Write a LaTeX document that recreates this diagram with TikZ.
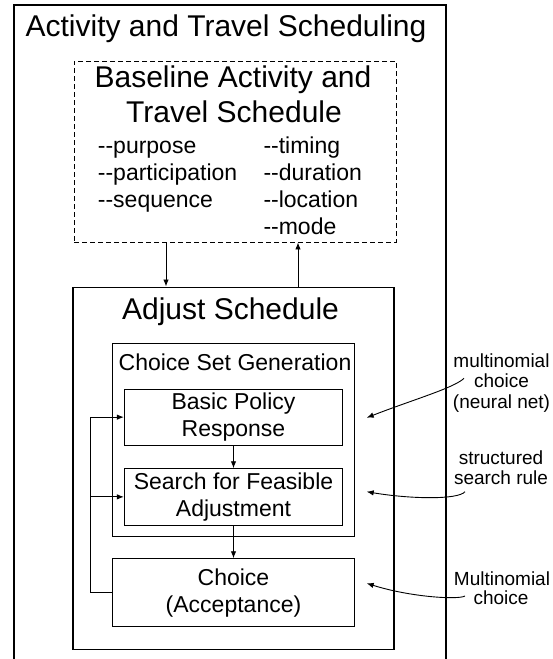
\documentclass[tikz,border=0pt]{standalone}
\usepackage{fontspec}
\setmainfont{Liberation Sans}
\usetikzlibrary{arrows.meta}
\newcommand{\dd}{-{}-}
\begin{document}
\begin{tikzpicture}[x=1pt,y=-1pt,
  frame/.style={draw, rectangle, inner sep=0pt, line width=1.6pt},
  dashframe/.style={draw, rectangle, inner sep=0pt, line width=0.9pt, dash pattern=on 5pt off 3pt},
  box/.style={draw, rectangle, inner sep=0pt, line width=0.9pt, align=center, font=\fontsize{23}{27}\selectfont},
  arr/.style={-{Latex[length=7pt,width=5.5pt]}, line width=0.9pt},
  big/.style={font=\fontsize{30}{34.5}\selectfont, inner sep=0pt, anchor=base},
  mid/.style={font=\fontsize{23}{27}\selectfont, inner sep=0pt, anchor=base},
  item/.style={font=\fontsize{23}{27}\selectfont, inner sep=0pt, anchor=base west},
  note/.style={font=\fontsize{19}{20.5}\selectfont, inner sep=0pt, anchor=base},
]
\useasboundingbox (0,0) rectangle (552,659);
\clip (0,0) rectangle (552,659);

% outer frame (runs past the lower edge)
\node[frame, minimum width=432pt, minimum height=675pt] (outer) at (230,342.5) {};
\node[big] (ttl) at (226,36) {Activity and Travel Scheduling};

% baseline schedule
\node[dashframe, minimum width=322pt, minimum height=181pt] (base) at (235,151.5) {};
\node[big] (bt1) at (233,87.3) {Baseline Activity and};
\node[big] (bt2) at (234,122.7) {Travel Schedule};
\node[item] (l1) at (97.7,153.5) {\dd purpose};
\node[item] (l2) at (97.7,180.5) {\dd participation};
\node[item] (l3) at (97.7,207.5) {\dd sequence};
\node[item] (r1) at (263.3,153.5) {\dd timing};
\node[item] (r2) at (263.3,180.5) {\dd duration};
\node[item] (r3) at (263.3,207.5) {\dd location};
\node[item] (r4) at (263.3,234.5) {\dd mode};

% adjust schedule
\node[frame, minimum width=321.3pt, minimum height=362pt] (adj) at (233.35,468.3) {};
\node[big] (at) at (230.5,319.3) {Adjust Schedule};

\node[box, minimum width=241.6pt, minimum height=193.4pt] (csg) at (233.5,440) {};
\node[mid] (ct) at (235,370) {Choice Set Generation};

\node[box, minimum width=218.4pt, minimum height=56.3pt] (bpr) at (233.5,417.15) {Basic Policy\\Response};
\node[box, minimum width=218.4pt, minimum height=56.3pt] (sfa) at (233.5,496.85) {Search for Feasible\\Adjustment};
\node[box, minimum width=241.6pt, minimum height=68pt] (cho) at (233.5,592.7) {Choice\\(Acceptance)};

% links between the schedule boxes
\coordinate (dn) at (166,0);
\coordinate (up) at (298,0);
\draw[arr] (dn |- base.south) -- (dn |- adj.north);
\draw[arr] (up |- adj.north) -- (up |- base.south);

\draw[arr] (bpr) -- (sfa);
\draw[arr] (sfa) -- (cho);

% feedback loop
\coordinate (loop) at (90,0);
\draw[arr] (cho.west) -- (cho.west -| loop) |- (bpr.west);
\draw[arr] (sfa.west -| loop) -- (sfa.west);

% annotations
\node[note] (n1a) at (501.5,367.3) {multinomial};
\node[note] (n1b) at (501.5,387.3) {choice};
\node[note] (n1c) at (501.5,408.3) {(neural net)};
\node[note] (n2a) at (501,464) {structured};
\node[note] (n2b) at (501,484) {search rule};
\node[note] (n3a) at (502,585) {Multinomial};
\node[note] (n3b) at (501,604.3) {choice};

\coordinate (s1) at (464,378.3);
\coordinate (e1) at (366.7,417.7);
\coordinate (s2) at (465,491.7);
\coordinate (e2) at (366.7,491.7);
\coordinate (s3) at (465,596);
\coordinate (e3) at (366.7,583.3);
\draw[arr] (s1) .. controls (454,388) and (412,400) .. (e1);
\draw[arr] (s2) .. controls (458,500) and (410,499) .. (e2);
\draw[arr] (s3) .. controls (458,600) and (410,597) .. (e3);
\end{tikzpicture}
\end{document}
